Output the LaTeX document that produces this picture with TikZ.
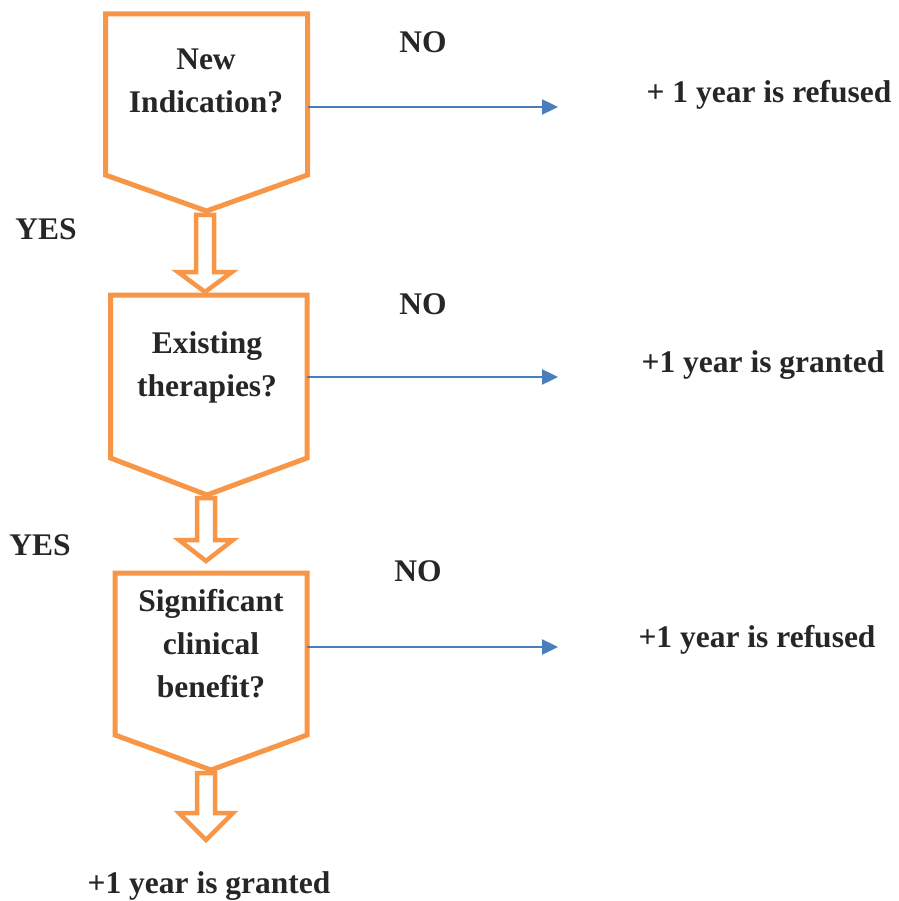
\documentclass[tikz,border=0pt]{standalone}
\usepackage{fontspec}
\setmainfont{Liberation Serif}
\usetikzlibrary{arrows.meta}
\definecolor{orng}{HTML}{F79646}
\definecolor{blu}{HTML}{4A7EBB}
\definecolor{txt}{HTML}{262626}
\tikzset{
  qbox/.style={draw=orng, line width=5pt, line join=miter, fill=white},
  barrow/.style={draw=orng, line width=4.5pt, line join=miter, fill=white},
  lbl/.style={font=\fontsize{31.5}{43}\selectfont\bfseries, text=txt, inner sep=0pt, align=center, anchor=base},
  link/.style={draw=blu, line width=2.4pt, -{Triangle[length=16pt,width=15pt]}}
}
\newcommand{\blockarr}[4]{% cx, ytop, yhead, ytip
  \draw[barrow] (#1-9,#2) -- (#1-9,#3) -- (#1-27,#3) -- (#1,#4) -- (#1+27,#3) -- (#1+9,#3) -- (#1+9,#2) -- cycle;}
\begin{document}
\begin{tikzpicture}[x=1pt,y=-1pt]
\useasboundingbox (0,0) rectangle (898,901);
% question shapes
\draw[qbox] (105.5,14) -- (307.5,14) -- (307.5,175) -- (206.5,211) -- (105.5,175) -- cycle;
\draw[qbox] (110.5,295) -- (307,295) -- (307,458) -- (207,495) -- (110.5,458) -- cycle;
\draw[qbox] (115,573) -- (307,573) -- (307,735) -- (211,770) -- (115,735) -- cycle;
% block arrows
\blockarr{205}{215}{272}{292}
\blockarr{206}{498}{540}{561}
\blockarr{206}{773}{813}{840}
% texts in shapes
\node[lbl] (q1) at (206,113) {New\\Indication?};
\node[lbl] (q2) at (207,396) {Existing\\therapies?};
\node[lbl] (q3) at (211,697) {Significant\\clinical\\benefit?};
% side arrows
\coordinate (e1) at (307.5,107);
\coordinate (t1) at (558,107);
\coordinate (e2) at (307,377);
\coordinate (t2) at (558,377);
\coordinate (e3) at (307,647);
\coordinate (t3) at (558,647);
\draw[link] (e1) -- (t1);
\draw[link] (e2) -- (t2);
\draw[link] (e3) -- (t3);
% labels
\node[lbl] (no1) at (423,53) {NO};
\node[lbl] (no2) at (423,314) {NO};
\node[lbl] (no3) at (418,581) {NO};
\node[lbl] (yes1) at (46,240) {YES};
\node[lbl] (yes2) at (40,555) {YES};
\node[lbl] (r1) at (769,103) {+ 1 year is refused};
\node[lbl] (r2) at (763,372) {+1 year is granted};
\node[lbl] (r3) at (757,647) {+1 year is refused};
\node[lbl] (r4) at (209,893) {+1 year is granted};
\end{tikzpicture}
\end{document}
